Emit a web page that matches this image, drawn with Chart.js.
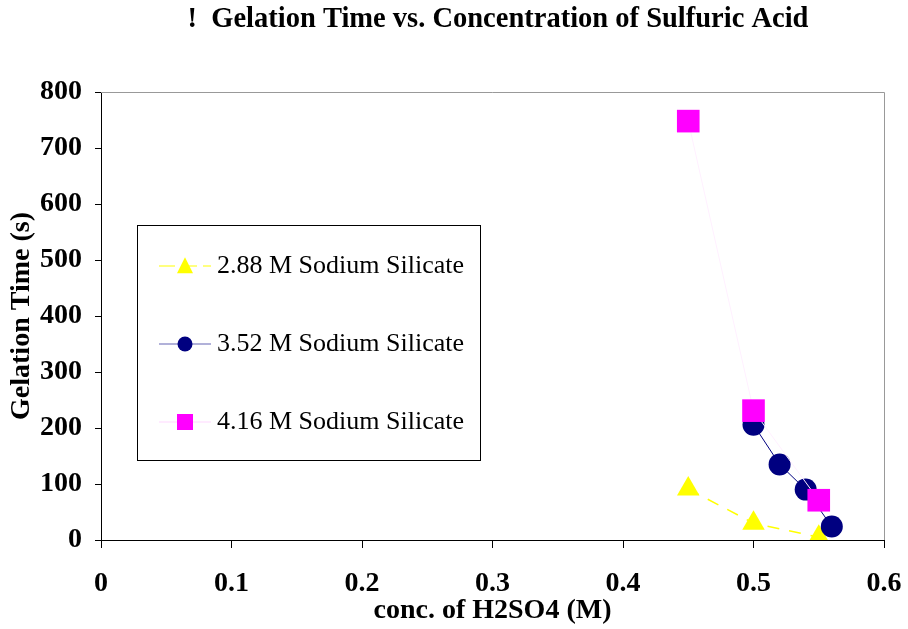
<!DOCTYPE html>
<html>
<head>
<meta charset="utf-8">
<script src="https://cdn.jsdelivr.net/npm/chart.js@4"></script>
<style>
  html, body { margin: 0; padding: 0; background: #fff; }
  #wrap { width: 908px; height: 629px; }
</style>
</head>
<body>
<div id="wrap"><canvas id="gelChart" width="908" height="629"></canvas></div>
<script>
const seriesNames = ['2.88 M Sodium Silicate', '3.52 M Sodium Silicate', '4.16 M Sodium Silicate'];

const conc288 = [0.45, 0.50, 0.55];
const time288 = [91, 30, 5];

const conc352 = [0.50, 0.52, 0.54, 0.56];
const time352 = [206, 135, 90, 24];

const conc416 = [0.45, 0.50, 0.55];
const time416 = [748, 231, 71];

const xTicks = [0, 0.1, 0.2, 0.3, 0.4, 0.5, 0.6];
const yTicks = [0, 100, 200, 300, 400, 500, 600, 700, 800];

const FONT = "'Liberation Serif', 'Times New Roman', serif";

function toPoints(xs, ys) {
    return xs.map((x, i) => ({ x: x, y: ys[i] }));
}

function drawMarker(ctx, style, x, y, size, color) {
    ctx.fillStyle = color;
    ctx.beginPath();
    if (style == 'triangle') {
        ctx.moveTo(x, y - size * 0.55);
        ctx.lineTo(x + size / 2, y + size * 0.45);
        ctx.lineTo(x - size / 2, y + size * 0.45);
        ctx.closePath();
    } else if (style == 'circle') {
        ctx.arc(x, y, size / 2, 0, Math.PI * 2);
    } else {
        ctx.rect(x - size / 2, y - size / 2, size, size);
    }
    ctx.fill();
}

// title, frame and in-plot legend
const decorPlugin = {
    id: 'decor',
    beforeDatasetsDraw(chart) {
        const { ctx, chartArea: { left, right, top, bottom } } = chart;
        ctx.save();
        ctx.strokeStyle = '#999999';
        ctx.lineWidth = 1;
        ctx.beginPath();
        ctx.moveTo(left, top + 0.5);
        ctx.lineTo(right + 0.5, top + 0.5);
        ctx.lineTo(right + 0.5, bottom);
        ctx.stroke();
        ctx.restore();
    },
    afterDraw(chart) {
        const { ctx } = chart;
        ctx.save();
        // Title
        ctx.fillStyle = '#000';
        ctx.font = "bold 28.5px " + FONT;
        ctx.textAlign = 'center';
        ctx.textBaseline = 'middle';
        ctx.fillText('!  Gelation Time vs. Concentration of Sulfuric Acid', 498, 20);

        // Legend box
        const bx = 137, by = 225, bw = 343, bh = 235;
        ctx.fillStyle = '#fff';
        ctx.fillRect(bx, by, bw, bh);
        ctx.strokeStyle = '#000';
        ctx.lineWidth = 1;
        ctx.strokeRect(bx + 0.5, by + 0.5, bw, bh);

        const items = [
            { style: 'triangle', color: '#ffff00', line: '#ffff00', dash: [16, 6], size: 16 },
            { style: 'circle', color: '#000080', line: '#6464b4', dash: [], size: 15 },
            { style: 'square', color: '#ff00ff', line: '#ffd8ff', dash: [], size: 16 }
        ];
        const rows = [266, 344, 422];
        items.forEach((it, i) => {
            const y = rows[i];
            ctx.strokeStyle = it.line;
            ctx.lineWidth = 1.2;
            ctx.setLineDash(it.dash);
            ctx.beginPath();
            ctx.moveTo(159, y);
            ctx.lineTo(211, y);
            ctx.stroke();
            ctx.setLineDash([]);
            drawMarker(ctx, it.style, 185, y, it.size, it.color);
            ctx.fillStyle = '#000';
            ctx.font = "26px " + FONT;
            ctx.textAlign = 'left';
            ctx.textBaseline = 'middle';
            ctx.fillText(seriesNames[i], 217, y);
        });
        ctx.restore();
    }
};

const ctx = document.getElementById('gelChart').getContext('2d');
new Chart(ctx, {
    type: 'scatter',
    data: {
        datasets: [{
            label: seriesNames[0],
            data: toPoints(conc288, time288),
            showLine: true,
            borderColor: '#ffff00',
            borderWidth: 1.5,
            borderDash: [12, 10],
            pointStyle: 'triangle',
            pointRadius: 13,
            pointBackgroundColor: '#ffff00',
            pointBorderWidth: 0,
            order: 2
        }, {
            label: seriesNames[1],
            data: toPoints(conc352, time352),
            showLine: true,
            borderColor: '#000080',
            borderWidth: 1,
            pointStyle: 'circle',
            pointRadius: 11,
            pointBackgroundColor: '#000080',
            pointBorderWidth: 0,
            order: 1
        }, {
            label: seriesNames[2],
            data: toPoints(conc416, time416),
            showLine: true,
            borderColor: '#fff0ff',
            borderWidth: 1,
            pointStyle: 'rect',
            pointRadius: 16,
            pointBackgroundColor: '#ff00ff',
            pointBorderWidth: 0,
            order: 0
        }]
    },
    options: {
        responsive: false,
        animation: false,
        layout: { padding: { top: 92, right: 24, left: 0, bottom: 0 } },
        plugins: {
            legend: { display: false },
            title: { display: false },
            tooltip: { enabled: false }
        },
        scales: {
            x: {
                type: 'linear',
                min: 0,
                max: 0.6,
                afterBuildTicks: s => { s.ticks = xTicks.map(v => ({ value: v })); },
                afterFit: s => { s.height = 89; s.paddingLeft = 0; s.paddingRight = 0; },
                border: { color: '#000', width: 1 },
                grid: { drawOnChartArea: false, drawTicks: true, tickLength: 8, color: '#000' },
                ticks: {
                    color: '#000',
                    padding: 22,
                    maxRotation: 0,
                    font: { family: FONT, size: 28, weight: 'bold', lineHeight: 1 },
                    callback: v => String(v)
                },
                title: {
                    display: true,
                    text: 'conc. of H2SO4 (M)',
                    color: '#000',
                    padding: { top: 7 },
                    font: { family: FONT, size: 28, weight: 'bold', lineHeight: 1 }
                }
            },
            y: {
                type: 'linear',
                min: 0,
                max: 800,
                afterBuildTicks: s => { s.ticks = yTicks.map(v => ({ value: v })); },
                afterFit: s => { s.width = 101; s.paddingTop = 0; s.paddingBottom = 0; },
                border: { color: '#000', width: 1 },
                grid: { drawOnChartArea: false, drawTicks: true, tickLength: 6, color: '#000' },
                ticks: {
                    color: '#000',
                    padding: 13,
                    font: { family: FONT, size: 28, weight: 'bold' }
                },
                title: {
                    display: true,
                    text: 'Gelation Time (s)',
                    color: '#000',
                    padding: { top: 8, bottom: 0 },
                    font: { family: FONT, size: 28, weight: 'bold', lineHeight: 1 }
                }
            }
        }
    },
    plugins: [decorPlugin]
});
</script>
</body>
</html>
